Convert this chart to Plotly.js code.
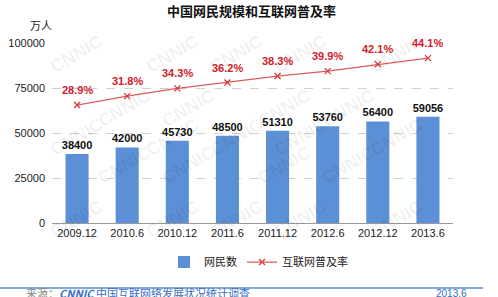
<!DOCTYPE html>
<html><head><meta charset="utf-8">
<script src="https://cdn.plot.ly/plotly-3.0.1.min.js"></script>
<style>html,body{margin:0;padding:0;background:#fff}#c{width:498px;height:297px}</style>
</head><body><div id="c"></div>
<script>
const categories = ["2009.12","2010.6","2010.12","2011.6","2011.12","2012.6","2012.12","2013.6"];
const netizens = [38400,42000,45730,48500,51310,53760,56400,59056];
const rate = [28.9,31.8,34.3,36.2,38.3,39.9,42.1,44.1];
const yTicks = [0,25000,50000,75000,100000];

const idx = categories.map((c,i)=>i);
const F = '"Liberation Sans", Arial, "Noto Sans CJK SC", sans-serif';
const FC = '"Noto Sans CJK SC", "Liberation Sans", sans-serif';

const bars = {
  type:'bar', x:idx, y:netizens, name:'网民数',
  marker:{color:'#5b8fd6'}, width:0.46,
  text:netizens.map(String), textposition:'outside', cliponaxis:false, constraintext:'none',
  textfont:{family:F, size:11, color:'#111', weight:'bold'},
  hoverinfo:'none'
};
const line = {
  type:'scatter', mode:'lines+markers', x:idx, y:rate, yaxis:'y2', name:'互联网普及率',
  line:{color:'#dc5c5c', width:1.3},
  marker:{symbol:'x-thin', size:6, line:{color:'#d43a3a', width:1.3}, color:'#d43a3a'},
  cliponaxis:false, hoverinfo:'none'
};

const annotations = rate.map((r,i)=>({
  x:idx[i], y:r, xref:'x', yref:'y2', text:r.toFixed(1)+'%', showarrow:false,
  yanchor:'bottom', yshift:7, font:{family:F, size:11, color:'#d0202a', weight:'bold'}
}));
annotations.push({xref:'paper', yref:'paper', x:-0.06, y:1.1, yanchor:'middle', text:'万人', showarrow:false,
  font:{family:FC, size:11, color:'#222'}});

// watermarks
const wm = [];
for (let r=0;r<5;r++){ for(let c=0;c<5;c++){
  const x = -0.02 + c*0.24 + (r%2)*0.12;
  if (x > 1.02) continue;
  wm.push({xref:'paper', yref:'paper', x:x, y:1.08 - r*0.3,
    text:'CNNIC', showarrow:false, textangle:-30,
    font:{family:F, size:18, color:'rgba(0,0,0,0.06)', weight:'bold'}});
}}
annotations.push(...wm);
annotations.push({xref:'paper', yref:'paper', x:-0.07, y:-0.39, xanchor:'left', yanchor:'middle',
  text:'<span style="color:#888">来源：</span><b><i>CNNIC</i></b> 中国互联网络发展状况统计调查', showarrow:false,
  font:{family:FC, size:11, color:'#3a6fc2'}});
annotations.push({xref:'paper', yref:'paper', x:1.04, y:-0.39, xanchor:'right', yanchor:'middle',
  text:'2013.6', showarrow:false, font:{family:F, size:10, color:'#3a6fc2'}});

const layout = {
  width:498, height:297, margin:{l:52, r:45, t:43, b:74},
  paper_bgcolor:'#fff', plot_bgcolor:'rgba(0,0,0,0)',
  title:{text:'<b>中国网民规模和互联网普及率</b>', x:0.505, xanchor:'center', y:0.963, yanchor:'middle',
    font:{family:FC, size:13, color:'#111'}},
  showlegend:true,
  legend:{orientation:'h', x:0.515, xanchor:'center', y:-0.217, yanchor:'middle',
    font:{family:FC, size:11, color:'#222'}, traceorder:'normal'},
  xaxis:{range:[-0.5,7.5], tickvals:idx, ticktext:categories, showline:true, linecolor:'#999', linewidth:1, ticks:'',
    tickfont:{family:F, size:11, color:'#222'}, showgrid:false, zeroline:false},
  yaxis:{range:[0,100000], tickvals:yTicks, ticktext:yTicks.map(String), showgrid:true,
    gridcolor:'#d0d0d0', griddash:'dash', gridwidth:1, zeroline:false, showline:false,
    tickfont:{family:F, size:11, color:'#222'}, ticks:'', ticklabelstandoff:6},
  yaxis2:{overlaying:'y', side:'right', range:[-9.3,49], showgrid:false, zeroline:false,
    showticklabels:false, showline:false},
  shapes:[{type:'line', xref:'paper', yref:'paper', x0:-0.13, x1:1.075, y0:-0.361, y1:-0.361,
    line:{color:'#5b8fd6', width:1.5}}],
  annotations:annotations
};
Plotly.newPlot('c',[bars,line],layout,{displayModeBar:false, staticPlot:true});
</script></body></html>
